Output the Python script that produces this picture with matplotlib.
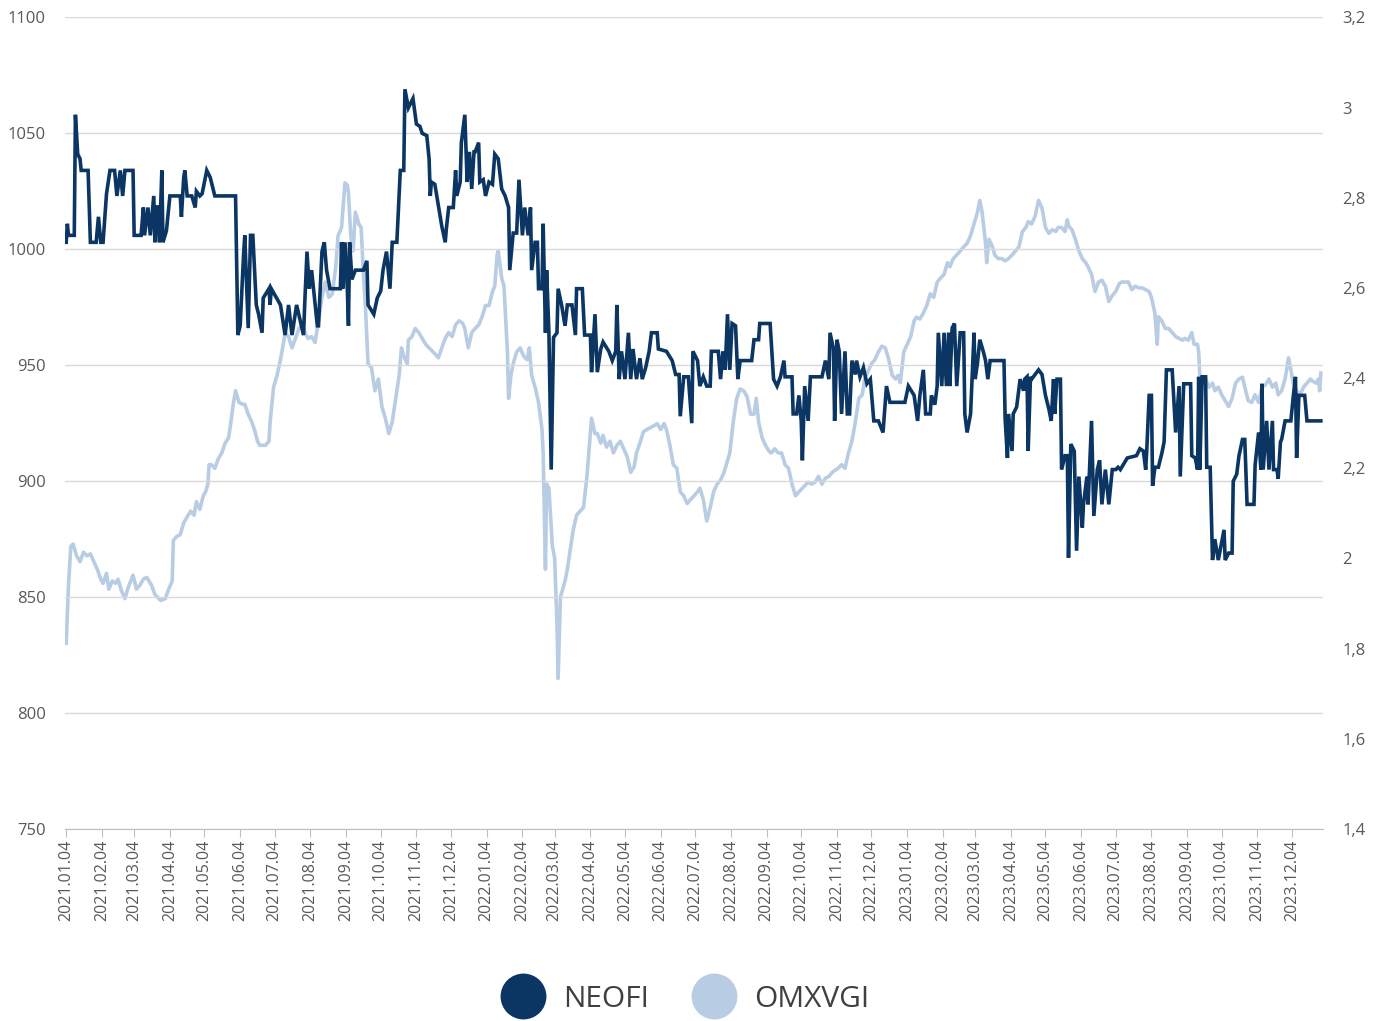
import pandas as pd
import matplotlib
matplotlib.use('Agg')
import matplotlib.pyplot as plt
from matplotlib.lines import Line2D
from matplotlib.ticker import FuncFormatter

plt.rcParams['font.family'] = ['Open Sans', 'DejaVu Sans']

START = pd.Timestamp('2021-01-04')

# NEOFI kurss (kreisā ass) - dienas kopš 2021.01.04 un vērtība
neofi_days = (
    [0, 1, 2, 7, 8, 10, 12, 13, 19, 21, 26, 28, 30, 32, 35, 38, 42, 44, 47, 49,
     51, 58, 59, 65, 67, 68, 71, 73, 76, 77, 79, 81, 83, 84, 87, 90, 95, 99, 100, 102,
     103, 105, 109, 112, 113, 116, 118, 122, 125, 129, 147, 149, 151, 154, 155, 158, 160, 162, 164, 165,
     167, 170, 171, 176]
    + [177, 178, 186, 190, 193, 196, 200, 206, 207, 209, 211, 213, 218, 219, 222, 224, 226, 229, 238, 239,
       240, 242, 244, 245, 246, 248, 251, 258, 261, 262, 267, 270, 273, 275, 278, 281, 283, 287, 290, 293,
       294, 297, 299, 301, 304, 307, 309, 313, 315, 316, 317, 320, 323, 326, 329, 330, 332, 336, 338, 339,
       342, 343, 346, 348, 350, 352, 354]
    + [355, 358, 359, 362, 364, 367, 370, 372, 375, 378, 381, 384, 385, 388, 391, 393, 396, 398, 401, 403,
       404, 407, 409, 410, 413, 414, 416, 417, 419, 421, 423, 426, 427, 430, 433, 435, 439, 442, 443, 448,
       450, 455, 456, 459, 461, 464, 466, 471, 474, 477, 478, 480, 482, 485, 488, 490, 492, 495, 498, 500,
       503, 506, 508, 513, 514, 521, 526, 529, 532, 533, 536, 540, 543, 544]
    + [548, 550, 553, 556, 559, 560, 566, 568, 570, 572, 574, 576, 578, 581, 583, 585, 595, 597, 601, 602,
       611, 614, 617, 620, 623, 624, 630, 631, 634, 636, 638, 639, 641, 644, 646, 656, 659, 662, 663, 666,
       667, 669, 671, 673, 676, 678, 680, 682, 685, 686, 689, 692, 695, 698, 701, 705, 709, 712, 715, 728]
    + [731, 736, 739, 741, 744, 746, 750, 751, 754, 756, 757, 760, 762, 764, 766, 767, 769, 771, 773, 776,
       779, 780, 782, 785, 786, 788, 789, 791, 793, 796, 798, 800, 802, 814, 815, 817, 818, 821, 822, 825,
       828, 831, 832, 834, 835, 837, 838, 841, 844, 847, 850, 853, 855, 857, 858, 860, 863, 864, 867, 869,
       870, 872, 875, 877, 879, 882, 883, 886, 887, 890, 892, 895, 897, 899, 902, 905, 908, 911]
    + [913, 915, 921, 929, 932, 935, 937, 938, 940, 942, 943, 945, 948, 951, 953, 955, 960, 963, 966, 967,
       970, 976, 977, 980, 982, 983, 984, 986, 989, 990, 993, 995, 997, 1000, 1005, 1006, 1009, 1012, 1013, 1016,
       1018, 1021, 1023, 1025, 1031, 1032, 1035, 1037, 1038, 1039, 1042, 1044, 1047, 1048, 1051, 1052, 1054, 1055, 1058, 1063,
       1065, 1067, 1068, 1070, 1075, 1077, 1089]
)
neofi_vals = (
    [1003, 1011, 1006, 1006, 1058, 1041, 1039, 1034, 1034, 1003, 1003, 1014, 1003, 1003, 1024, 1034, 1034, 1023, 1034, 1023,
     1034, 1034, 1006, 1006, 1018, 1006, 1018, 1006, 1023, 1003, 1019, 1003, 1034, 1003, 1008, 1023, 1023, 1023, 1014, 1031,
     1034, 1023, 1023, 1018, 1025, 1023, 1024, 1034, 1031, 1023, 1023, 963, 967, 998, 1006, 966, 1006, 1006, 986, 976,
     972, 964, 979, 983]
    + [976, 983, 976, 963, 976, 963, 976, 963, 976, 999, 983, 991, 967, 967, 999, 1003, 991, 983, 983, 1003,
       983, 1003, 983, 967, 1003, 987, 991, 991, 995, 976, 972, 979, 982, 991, 999, 983, 1003, 1003, 1034, 1034,
       1069, 1061, 1063, 1065, 1054, 1053, 1050, 1049, 1039, 1023, 1029, 1028, 1019, 1010, 1003, 1009, 1018, 1018, 1034, 1023,
       1029, 1046, 1058, 1029, 1042, 1026, 1042]
    + [1042, 1046, 1029, 1030, 1023, 1029, 1028, 1041, 1039, 1026, 1023, 1018, 991, 1007, 1007, 1030, 1006, 1018, 1006, 1018,
       991, 1003, 1003, 983, 983, 1011, 964, 991, 964, 905, 962, 964, 983, 976, 967, 976, 976, 963, 983, 983,
       963, 963, 947, 972, 947, 957, 960, 956, 952, 956, 976, 944, 956, 944, 964, 944, 957, 944, 953, 944,
       949, 956, 964, 964, 957, 956, 952, 946, 946, 928, 945, 945, 925, 956]
    + [952, 941, 945, 941, 941, 956, 956, 944, 956, 948, 972, 948, 968, 967, 944, 952, 952, 961, 961, 968,
       968, 944, 941, 945, 952, 945, 945, 929, 929, 937, 926, 909, 941, 926, 945, 945, 952, 944, 964, 957,
       926, 961, 956, 929, 956, 929, 929, 952, 946, 952, 945, 949, 942, 944, 926, 926, 921, 941, 934, 934]
    + [941, 937, 926, 937, 948, 929, 929, 937, 933, 941, 964, 941, 964, 941, 964, 941, 966, 968, 941, 964,
       964, 929, 921, 929, 941, 964, 944, 951, 961, 956, 952, 944, 952, 952, 927, 910, 929, 913, 929, 932,
       944, 939, 944, 945, 913, 945, 944, 946, 948, 946, 937, 931, 926, 944, 929, 944, 944, 905, 911, 911,
       867, 916, 913, 870, 902, 880, 890, 902, 890, 926, 885, 905, 909, 890, 905, 890, 905, 905]
    + [906, 905, 910, 911, 914, 913, 905, 914, 937, 937, 898, 906, 906, 912, 917, 948, 948, 921, 941, 902,
       942, 942, 911, 910, 905, 945, 905, 945, 945, 906, 906, 866, 875, 866, 879, 866, 869, 869, 900, 903,
       911, 918, 918, 890, 890, 907, 921, 905, 942, 905, 926, 905, 926, 905, 905, 901, 917, 918, 926, 926,
       936, 945, 910, 937, 937, 926, 926]
)

# OMXVGI indekss (labā ass)
omx_days = (
    [0, 2, 4, 6, 9, 12, 15, 18, 21, 24, 27, 30, 32, 35, 37, 40, 43, 45, 48, 51,
     54, 58, 61, 64, 67, 70, 74, 77, 82, 86, 89, 92, 93, 96, 99, 102, 105, 108, 111, 113,
     116, 119, 121, 123, 124, 126, 129, 132, 135, 138, 141, 143, 145, 147, 150, 153, 155, 158, 161, 164,
     166, 168, 173, 176, 177, 180]
    + [183, 186, 189, 190, 193, 196, 199, 202, 205, 208, 210, 213, 216, 219, 222, 225, 228, 231, 234, 236,
       239, 242, 244, 245, 247, 249, 251, 254, 256, 258, 260, 262, 265, 268, 271, 274, 277, 280, 283, 286,
       289, 291, 293, 296, 297, 300, 303, 306, 309, 312, 315, 317, 320, 323, 326, 329, 332, 335, 338, 341,
       344, 346, 349, 352, 355, 358, 361, 364]
    + [367, 370, 372, 374, 375, 378, 380, 381, 383, 384, 386, 388, 391, 394, 397, 400, 402, 404, 407, 410,
       413, 414, 416, 417, 419, 422, 424, 426, 427, 429, 431, 433, 435, 438, 440, 443, 446, 449, 452, 455,
       456, 459, 461, 464, 466, 469, 472, 475, 478, 481, 484, 487, 490, 493, 495, 498, 501, 504, 507, 510,
       513, 516, 519, 521, 524, 527, 530, 533, 536, 539, 542, 545]
    + [548, 550, 553, 556, 559, 562, 565, 568, 571, 573, 576, 579, 582, 585, 588, 591, 594, 597, 599, 601,
       604, 607, 610, 612, 615, 618, 621, 624, 627, 630, 633, 636, 639, 641, 644, 647, 650, 653, 656, 659,
       662, 665, 667, 670, 673, 676, 679, 682, 685, 688, 691, 693, 696, 699, 702, 705, 708, 711, 714, 717,
       720, 722]
    + [724, 727, 730, 733, 736, 738, 741, 744, 747, 750, 753, 756, 759, 762, 765, 767, 770, 773, 776, 779,
       782, 785, 788, 791, 793, 795, 798, 799, 801, 804, 806, 809, 812, 815, 818, 821, 824, 827, 830, 833,
       835, 838, 841, 844, 847, 850, 853, 856, 859, 861, 864, 867, 869, 870, 873, 876, 879, 882, 885, 887,
       890, 893, 896, 899, 902, 905, 908, 911]
    + [914, 916, 919, 922, 925, 928, 931, 934, 937, 940, 942, 945, 947, 948, 951, 954, 957, 960, 963, 966,
       969, 971, 974, 977, 979, 982, 983, 984, 986, 989, 992, 995, 997, 1000, 1003, 1006, 1009, 1012, 1015, 1018,
       1021, 1023, 1026, 1029, 1032, 1035, 1038, 1041, 1044, 1047, 1050, 1052, 1055, 1058, 1061, 1063, 1065, 1068, 1071, 1074,
       1077, 1080, 1082, 1085, 1087, 1088, 1089]
)
omx_vals = (
    [1.812, 1.941, 2.027, 2.032, 2.006, 1.993, 2.014, 2.006, 2.010, 1.993, 1.976, 1.954, 1.945, 1.967, 1.932, 1.950, 1.945, 1.954, 1.928, 1.911,
     1.937, 1.963, 1.932, 1.941, 1.954, 1.958, 1.941, 1.920, 1.907, 1.911, 1.932, 1.950, 2.040, 2.049, 2.053, 2.079, 2.092, 2.105, 2.096, 2.126,
     2.109, 2.139, 2.148, 2.165, 2.208, 2.208, 2.200, 2.221, 2.234, 2.256, 2.268, 2.303, 2.342, 2.372, 2.346, 2.342, 2.342, 2.320, 2.303, 2.281,
     2.260, 2.251, 2.251, 2.260, 2.303, 2.380]
    + [2.406, 2.441, 2.484, 2.501, 2.492, 2.467, 2.488, 2.510, 2.518, 2.497, 2.488, 2.492, 2.479, 2.527, 2.579, 2.613, 2.579, 2.587, 2.648, 2.716,
       2.734, 2.833, 2.828, 2.811, 2.716, 2.682, 2.768, 2.742, 2.734, 2.630, 2.544, 2.432, 2.423, 2.372, 2.398, 2.337, 2.311, 2.277, 2.303, 2.355,
       2.406, 2.467, 2.449, 2.432, 2.484, 2.492, 2.510, 2.501, 2.488, 2.475, 2.467, 2.462, 2.454, 2.445, 2.467, 2.488, 2.501, 2.492, 2.518, 2.527,
       2.522, 2.510, 2.467, 2.501, 2.510, 2.518, 2.536, 2.561]
    + [2.561, 2.592, 2.604, 2.673, 2.682, 2.622, 2.604, 2.553, 2.458, 2.355, 2.406, 2.432, 2.458, 2.467, 2.449, 2.441, 2.467, 2.406, 2.380, 2.346,
       2.286, 2.234, 1.976, 2.165, 2.156, 2.027, 2.001, 1.855, 1.734, 1.915, 1.932, 1.950, 1.976, 2.027, 2.062, 2.096, 2.105, 2.113, 2.182, 2.277,
       2.311, 2.277, 2.277, 2.256, 2.273, 2.247, 2.260, 2.234, 2.251, 2.260, 2.243, 2.225, 2.191, 2.204, 2.234, 2.256, 2.281, 2.286, 2.290, 2.294,
       2.299, 2.286, 2.299, 2.286, 2.251, 2.208, 2.200, 2.148, 2.139, 2.122, 2.131, 2.139]
    + [2.148, 2.156, 2.131, 2.083, 2.113, 2.148, 2.165, 2.174, 2.191, 2.208, 2.234, 2.303, 2.355, 2.376, 2.372, 2.359, 2.320, 2.320, 2.355, 2.303,
       2.268, 2.251, 2.238, 2.234, 2.243, 2.234, 2.234, 2.208, 2.200, 2.165, 2.139, 2.148, 2.156, 2.161, 2.169, 2.165, 2.169, 2.182, 2.165, 2.178,
       2.182, 2.191, 2.195, 2.200, 2.208, 2.200, 2.234, 2.260, 2.303, 2.355, 2.363, 2.398, 2.415, 2.432, 2.441, 2.458, 2.471, 2.467, 2.441, 2.406,
       2.398, 2.406]
    + [2.390, 2.458, 2.475, 2.492, 2.527, 2.535, 2.531, 2.544, 2.561, 2.587, 2.579, 2.613, 2.622, 2.630, 2.656, 2.647, 2.665, 2.673, 2.682, 2.691,
       2.699, 2.716, 2.742, 2.768, 2.794, 2.768, 2.699, 2.656, 2.708, 2.691, 2.673, 2.665, 2.665, 2.660, 2.665, 2.673, 2.682, 2.691, 2.725, 2.734,
       2.747, 2.742, 2.759, 2.794, 2.777, 2.734, 2.721, 2.729, 2.725, 2.734, 2.734, 2.725, 2.751, 2.738, 2.729, 2.708, 2.682, 2.665, 2.656, 2.647,
       2.630, 2.592, 2.613, 2.617, 2.604, 2.570, 2.583, 2.592]
    + [2.609, 2.613, 2.613, 2.613, 2.596, 2.604, 2.600, 2.600, 2.596, 2.592, 2.579, 2.544, 2.475, 2.536, 2.527, 2.510, 2.510, 2.501, 2.492, 2.488,
       2.484, 2.488, 2.484, 2.501, 2.475, 2.475, 2.458, 2.406, 2.389, 2.398, 2.380, 2.389, 2.372, 2.380, 2.363, 2.350, 2.337, 2.355, 2.389, 2.398,
       2.402, 2.380, 2.350, 2.346, 2.363, 2.346, 2.380, 2.385, 2.398, 2.380, 2.389, 2.363, 2.372, 2.398, 2.445, 2.419, 2.389, 2.372, 2.363, 2.380,
       2.389, 2.398, 2.393, 2.389, 2.398, 2.372, 2.411]
)

left_ticks = [750, 800, 850, 900, 950, 1000, 1050, 1100]
right_ticks = [1.4, 1.6, 1.8, 2.0, 2.2, 2.4, 2.6, 2.8, 3.0, 3.2]
series_names = ['NEOFI', 'OMXVGI']

NAVY = '#0b3563'
LIGHT = '#b8cce4'
GRID = '#d9d9d9'
TXT = '#595959'

assert len(neofi_days) == len(neofi_vals)
assert len(omx_days) == len(omx_vals)

neofi_dates = START + pd.to_timedelta(neofi_days, unit='D')
omx_dates = START + pd.to_timedelta(omx_days, unit='D')

fig = plt.figure(figsize=(13.84, 10.21), dpi=100)
ax = fig.add_axes([0.047, 0.188, 0.909, 0.795])
ax2 = ax.twinx()
ax.set_zorder(ax2.get_zorder() + 1)
ax.patch.set_visible(False)

ax2.plot(omx_dates, omx_vals, color=LIGHT, lw=2.6, solid_joinstyle='round')
ax.plot(neofi_dates, neofi_vals, color=NAVY, lw=2.6, solid_joinstyle='miter')

ax.set_ylim(750, 1100)
ax2.set_ylim(1.4, 3.2)
ax.set_xlim(START - pd.Timedelta(days=1), pd.Timestamp('2023-12-31'))

ax.set_yticks(left_ticks)
ax2.set_yticks(right_ticks)
ax2.yaxis.set_major_formatter(FuncFormatter(lambda v, p: ('%g' % round(v, 1)).replace('.', ',')))

month_ticks = pd.date_range('2021-01-01', '2023-12-01', freq='MS') + pd.Timedelta(days=3)
ax.set_xticks(month_ticks)
ax.set_xticklabels([d.strftime('%Y.%m.%d') for d in month_ticks], rotation=90,
                   ha='center', va='top')

ax.grid(axis='y', color=GRID, lw=1)
ax.set_axisbelow(True)
for a in (ax, ax2):
    for s in ('left', 'right', 'top', 'bottom'):
        a.spines[s].set_visible(False)
ax.spines['bottom'].set_visible(True)
ax.spines['bottom'].set_color('#bfbfbf')

ax.tick_params(axis='x', length=6, color='#bfbfbf', labelsize=11.5, labelcolor=TXT, pad=2)
ax.tick_params(axis='y', length=0, labelsize=12, labelcolor=TXT, pad=14)
ax2.tick_params(axis='y', length=0, labelsize=12, labelcolor=TXT, pad=14)

handles = [Line2D([], [], ls='none', marker='o', markersize=32, color=NAVY),
           Line2D([], [], ls='none', marker='o', markersize=32, color=LIGHT)]
fig.legend(handles, series_names, loc='center', bbox_to_anchor=(0.495, 0.0215),
           ncol=2, frameon=False, fontsize=21.5, labelcolor='#404040',
           handlelength=1.5, handletextpad=0.6, columnspacing=1.4)

fig.savefig('out.png', dpi=100)
